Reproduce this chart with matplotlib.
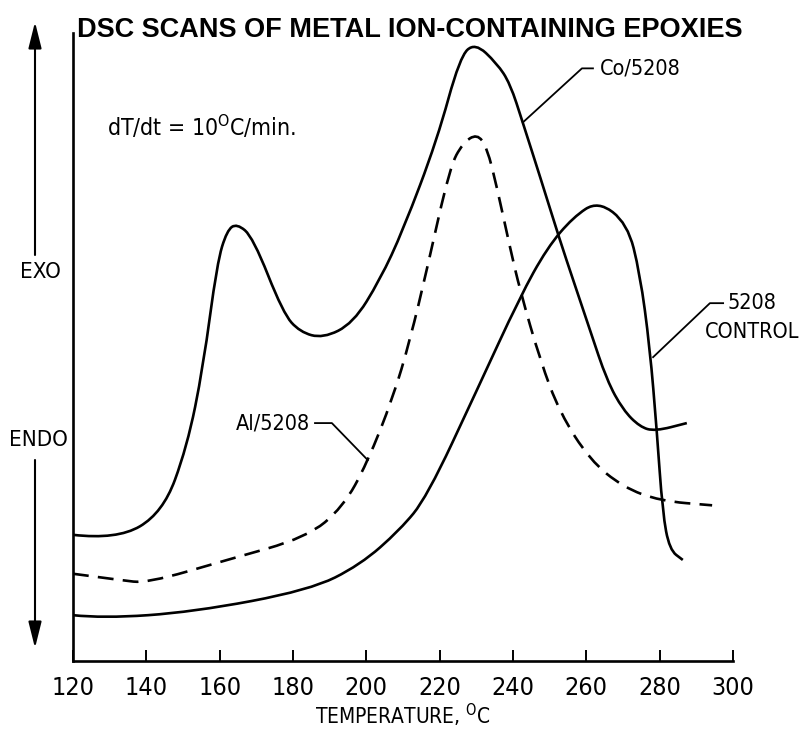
import matplotlib.pyplot as plt
from matplotlib.path import Path
from matplotlib.patches import PathPatch

plt.rcParams['font.family'] = ['DejaVu Sans']
plt.rcParams['font.stretch'] = 'condensed'
plt.rcParams['mathtext.fontset'] = 'custom'
plt.rcParams['mathtext.rm'] = 'DejaVu Sans:stretch=condensed'

# temperature (deg C) vs heat flow (arbitrary units, axis height = 100)
co_temp = [120.0, 132.0, 144.5, 151.1, 155.5, 159.3, 162.0, 164.7, 169.1, 177.3,
           181.9, 188.2, 196.4, 203.7, 210.0, 219.3, 225.5, 229.6, 235.6, 239.2,
           242.7, 247.4, 252.8, 256.4, 261.0, 265.6, 270.0, 274.6, 278.7, 287.4]
co_flow = [20.1, 19.3, 23.6, 34.1, 46.8, 63.4, 68.6, 69.7, 67.5, 55.4,
           52.4, 51.4, 53.8, 60.7, 68.6, 83.0, 96.2, 98.5, 95.2, 92.0,
           85.7, 77.1, 67.0, 60.7, 52.7, 44.7, 40.0, 37.3, 36.6, 37.9]

al_temp = [120.0, 132.8, 140.2, 162.0, 183.8, 193.6, 200.2, 207.3, 211.9, 216.5,
           222.8, 226.3, 230.2, 232.9, 235.6, 239.2, 241.9, 247.4, 252.8, 261.0,
           270.0, 280.1, 294.3]
al_flow = [13.9, 12.9, 12.4, 16.1, 19.7, 24.5, 31.5, 42.0, 51.1, 62.3,
           78.7, 82.5, 84.0, 81.8, 75.5, 65.8, 59.1, 47.9, 39.5, 32.0,
           27.7, 25.5, 24.8]

ctrl_temp = [120.0, 128.2, 152.7, 184.6, 198.3, 209.2, 216.5, 230.2, 241.9, 249.3,
             256.4, 263.2, 271.2, 274.6, 277.3, 279.2, 280.8, 282.7, 286.3]
ctrl_flow = [7.3, 6.8, 7.8, 11.3, 15.3, 20.9, 26.1, 43.2, 58.0, 65.8,
             70.7, 73.3, 69.7, 61.8, 50.0, 36.8, 23.6, 17.7, 16.1]

tick_temps = [120, 140, 160, 180, 200, 220, 240, 260, 280, 300]


def smooth(x, y):
    # quadratic bezier through the midpoints, read points as control points
    verts = [(x[0], y[0])]
    codes = [Path.MOVETO]
    for i in range(1, len(x) - 1):
        verts += [(x[i], y[i]), ((x[i] + x[i + 1]) / 2, (y[i] + y[i + 1]) / 2)]
        codes += [Path.CURVE3, Path.CURVE3]
    verts.append((x[-1], y[-1]))
    codes.append(Path.LINETO)
    return Path(verts, codes)


fig = plt.figure(figsize=(8.02, 7.30), dpi=100)
ax = fig.add_axes([0.091, 0.0945, 0.823, 0.860])

lw = 1.9
ax.add_patch(PathPatch(smooth(co_temp, co_flow), fill=False, lw=lw, edgecolor='black'))
ax.add_patch(PathPatch(smooth(al_temp, al_flow), fill=False, lw=lw, edgecolor='black',
                       linestyle=(0, (6, 3.5))))
ax.add_patch(PathPatch(smooth(ctrl_temp, ctrl_flow), fill=False, lw=lw, edgecolor='black'))

ax.set_xlim(120, 300)
ax.set_ylim(0, 100)
ax.spines['top'].set_visible(False)
ax.spines['right'].set_visible(False)
ax.spines['left'].set_linewidth(lw)
ax.spines['bottom'].set_linewidth(lw)
ax.set_yticks([])
ax.set_xticks(tick_temps)
ax.tick_params(axis='x', direction='in', length=8, width=1.4, labelsize=18, pad=11)
ax.set_xlabel('TEMPERATURE, $^{\\mathrm{O}}$C', fontsize=15, labelpad=1)

# curve labels with leader lines
ax.plot([242.7, 258.8, 261.8], [85.8, 94.4, 94.4], color='black', lw=1.3, clip_on=False)
ax.text(263.7, 94.4, 'Co/5208', fontsize=15.5, va='center', ha='left')

ax.plot([278.2, 293.7, 297.3], [48.4, 57.0, 57.0], color='black', lw=1.3, clip_on=False)
ax.text(298.6, 57.0, '5208', fontsize=15.5, va='center', ha='left')
ax.text(292.4, 52.4, 'CONTROL', fontsize=15.5, va='center', ha='left')

ax.plot([186.0, 190.6, 200.4], [37.9, 37.9, 32.0], color='black', lw=1.3)
ax.text(184.6, 37.9, 'Al/5208', fontsize=15.5, va='center', ha='right')

ax.text(129.3, 85.0, 'dT/dt = 10$^{\\mathrm{O}}$C/min.', fontsize=16.5, va='center', ha='left')

# EXO / ENDO arrows
arrow = dict(arrowstyle='-|>,head_length=0.8,head_width=0.2', lw=1.5,
             color='black', mutation_scale=20, shrinkA=0, shrinkB=0)
ax.annotate('', xy=(35, 730 - 22), xytext=(35, 730 - 255),
            xycoords='figure pixels', textcoords='figure pixels', arrowprops=arrow)
ax.annotate('', xy=(35, 730 - 648), xytext=(35, 730 - 460),
            xycoords='figure pixels', textcoords='figure pixels', arrowprops=arrow)
fig.text(40 / 802, 1 - 272 / 730, 'EXO', fontsize=16, ha='center', va='center')
fig.text(38 / 802, 1 - 440 / 730, 'ENDO', fontsize=16, ha='center', va='center')

fig.text(410 / 802, 1 - 30 / 730, 'DSC SCANS OF METAL ION-CONTAINING EPOXIES',
         fontsize=19.5, fontweight='bold', family='Liberation Sans', stretch='normal',
         ha='center', va='center')

fig.savefig('out.png', dpi=100)
